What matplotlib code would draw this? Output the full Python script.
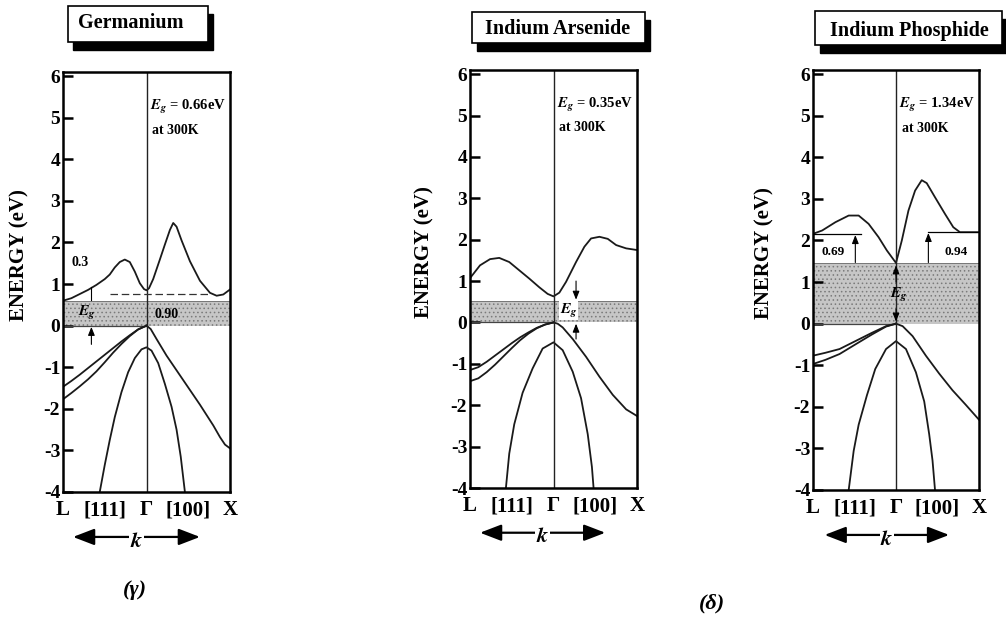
import matplotlib
matplotlib.use("Agg")
import matplotlib.pyplot as plt
from matplotlib.patches import Rectangle

plt.rcParams['font.family'] = ['Liberation Serif', 'DejaVu Serif']
plt.rcParams['font.weight'] = 'bold'
plt.rcParams['mathtext.fontset'] = 'stix'
plt.rcParams['hatch.linewidth'] = 0.6
plt.rcParams['hatch.color'] = '#7a7a7a'

# k axis: L = -1, Gamma = 0, X = 1
k_ticks = [-1, -0.5, 0, 0.5, 1]
k_labels = ['L', '[111]', 'Γ', '[100]', 'X']
e_ticks = [-4, -3, -2, -1, 0, 1, 2, 3, 4, 5, 6]
e_labels = ['-4', '-3', '-2', '-1', '0', '1', '2', '3', '4', '5', '6']

# ---- Germanium ----
ge_cb_k = [-1.0, -0.9, -0.8, -0.7, -0.6, -0.5, -0.44, -0.38, -0.32, -0.26, -0.2, -0.14, -0.08, -0.03, 0.0,
           0.03, 0.08, 0.16, 0.22, 0.28, 0.32, 0.36, 0.42, 0.52, 0.64, 0.76, 0.84, 0.92, 1.0]
ge_cb_e = [0.6, 0.66, 0.76, 0.86, 0.98, 1.12, 1.23, 1.4, 1.53, 1.59, 1.53, 1.3, 1.02, 0.88, 0.85,
           0.9, 1.12, 1.59, 1.95, 2.3, 2.47, 2.38, 2.05, 1.55, 1.08, 0.79, 0.72, 0.75, 0.87]
ge_hh_k = [-1.0, -0.9, -0.8, -0.7, -0.6, -0.5, -0.4, -0.3, -0.2, -0.1, 0.0]
ge_hh_e = [-1.47, -1.33, -1.18, -1.02, -0.86, -0.7, -0.54, -0.38, -0.23, -0.09, 0.0]
ge_lh_k = [-1.0, -0.9, -0.8, -0.7, -0.6, -0.5, -0.4, -0.3, -0.2, -0.1, 0.0]
ge_lh_e = [-1.77, -1.62, -1.46, -1.29, -1.1, -0.88, -0.65, -0.44, -0.25, -0.09, 0.0]
ge_vx_k = [0.0, 0.05, 0.12, 0.24, 0.44, 0.64, 0.8, 0.88, 0.94, 1.0]
ge_vx_e = [0.0, -0.08, -0.32, -0.72, -1.31, -1.9, -2.4, -2.68, -2.86, -2.95]
ge_so_k = [-0.56, -0.5, -0.44, -0.38, -0.3, -0.22, -0.14, -0.06, 0.0, 0.06, 0.14, 0.22, 0.3, 0.36, 0.41, 0.46]
ge_so_e = [-4.0, -3.35, -2.75, -2.2, -1.6, -1.12, -0.78, -0.57, -0.52, -0.6, -0.9, -1.4, -1.95, -2.5, -3.15, -4.0]
ge_gap_top = 0.6

# ---- Indium Arsenide ----
inas_cb_k = [-1.0, -0.88, -0.76, -0.65, -0.53, -0.41, -0.29, -0.17, -0.07, 0.0, 0.07, 0.15, 0.27, 0.37,
             0.45, 0.55, 0.65, 0.75, 0.87, 1.0]
inas_cb_e = [1.07, 1.38, 1.53, 1.56, 1.46, 1.26, 1.06, 0.85, 0.69, 0.63, 0.72, 0.98, 1.46, 1.83,
             2.03, 2.07, 2.02, 1.87, 1.79, 1.75]
inas_hh_k = [-1.0, -0.9, -0.8, -0.7, -0.6, -0.5, -0.4, -0.3, -0.2, -0.1, 0.0]
inas_hh_e = [-1.15, -1.08, -0.95, -0.8, -0.65, -0.5, -0.36, -0.24, -0.13, -0.05, 0.0]
inas_lh_k = [-1.0, -0.9, -0.8, -0.7, -0.6, -0.5, -0.4, -0.3, -0.2, -0.1, 0.0]
inas_lh_e = [-1.42, -1.35, -1.2, -1.02, -0.82, -0.62, -0.43, -0.27, -0.14, -0.05, 0.0]
inas_vx_k = [0.0, 0.05, 0.11, 0.23, 0.39, 0.55, 0.71, 0.87, 1.0]
inas_vx_e = [0.0, -0.03, -0.12, -0.4, -0.83, -1.31, -1.75, -2.1, -2.26]
inas_so_k = [-0.57, -0.53, -0.47, -0.37, -0.25, -0.13, 0.0, 0.11, 0.23, 0.33, 0.41, 0.46, 0.48]
inas_so_e = [-4.0, -3.17, -2.46, -1.7, -1.11, -0.63, -0.48, -0.67, -1.19, -1.83, -2.7, -3.49, -4.0]
inas_gap_top = 0.52

# ---- Indium Phosphide ----
inp_cb_k = [-1.0, -0.89, -0.73, -0.57, -0.45, -0.33, -0.21, -0.11, 0.0, 0.07, 0.15, 0.23, 0.31, 0.37,
            0.47, 0.59, 0.69, 0.77, 1.0]
inp_cb_e = [2.16, 2.24, 2.44, 2.6, 2.6, 2.4, 2.08, 1.76, 1.46, 2.0, 2.72, 3.2, 3.45, 3.38,
            3.04, 2.64, 2.32, 2.2, 2.2]
inp_hh_k = [-1.0, -0.85, -0.68, -0.49, -0.29, -0.12, 0.0]
inp_hh_e = [-0.77, -0.7, -0.61, -0.42, -0.22, -0.06, 0.0]
inp_lh_k = [-1.0, -0.85, -0.68, -0.49, -0.29, -0.12, 0.0]
inp_lh_e = [-0.97, -0.87, -0.73, -0.5, -0.26, -0.07, 0.0]
inp_vx_k = [0.0, 0.08, 0.2, 0.36, 0.52, 0.68, 0.84, 1.0]
inp_vx_e = [0.0, -0.06, -0.3, -0.77, -1.2, -1.6, -1.95, -2.31]
inp_so_k = [-0.57, -0.51, -0.45, -0.35, -0.25, -0.12, 0.0, 0.12, 0.24, 0.34, 0.4, 0.44, 0.47]
inp_so_e = [-4.0, -3.06, -2.43, -1.72, -1.09, -0.61, -0.42, -0.61, -1.17, -1.87, -2.66, -3.29, -4.0]
inp_gap_top = 1.45

W, H = 1006, 625
fig = plt.figure(figsize=(W / 100, H / 100), dpi=100)


def px_rect(x0, y0, x1, y1):
    # pixel box (top-left origin) -> figure fraction rect
    return [x0 / W, 1 - y1 / H, (x1 - x0) / W, (y1 - y0) / H]


def title_box(x0, y0, x1, y1, text, cx, cy):
    fig.add_artist(Rectangle((x0 / W + 5 / W, 1 - (y1 + 8) / H), (x1 - x0) / W, (y1 - y0) / H,
                             transform=fig.transFigure, facecolor='black', edgecolor='black'))
    fig.add_artist(Rectangle((x0 / W, 1 - y1 / H), (x1 - x0) / W, (y1 - y0) / H,
                             transform=fig.transFigure, facecolor='white', edgecolor='black', lw=1.2))
    fig.text(cx / W, 1 - cy / H, text, ha='center', va='center', fontsize=14.5, fontweight='bold')


def band_panel(rect, bands, gap_top, eg_text, ylab_x, arrow_x0, arrow_x1):
    ax = fig.add_axes(rect)
    ax.fill_between([-1, 1], 0, gap_top, facecolor='#c6c6c6', edgecolor='#7a7a7a', hatch='....', lw=0)
    ax.plot([-1, 1], [gap_top, gap_top], color='#777777', lw=0.7)
    ax.plot([-1, 0], [0, 0], color='#444444', lw=0.9)
    for kk, ee in bands:
        ax.plot(kk, ee, color='#1a1a1a', lw=1.3)
    ax.axvline(0, color='#222222', lw=1.0)
    ax.set_xlim(-1, 1)
    ax.set_ylim(-4.0, 6.1)
    ax.set_yticks(e_ticks)
    ax.set_yticklabels(e_labels, fontsize=14, fontweight='bold')
    ax.set_xticks(k_ticks)
    ax.set_xticklabels(k_labels, fontsize=15, fontweight='bold')
    ax.tick_params(axis='y', direction='in', length=7, width=1.8, pad=2)
    ax.tick_params(axis='x', length=0, pad=6)
    for s in ax.spines.values():
        s.set_linewidth(1.8)
    ax.set_ylabel('ENERGY (eV)', fontsize=15, fontweight='bold')
    ax.yaxis.set_label_coords(ylab_x, 0.565)
    ax.text(0.04, 5.25, eg_text, fontsize=10.5, fontweight='bold', va='center')
    ax.text(0.07, 4.7, 'at 300K', fontsize=10, fontweight='bold', va='center')
    ax.annotate('', xy=(arrow_x0, -0.107), xytext=(arrow_x1, -0.107), xycoords='axes fraction',
                textcoords='axes fraction', annotation_clip=False,
                arrowprops=dict(arrowstyle='<|-|>,head_length=1.3,head_width=0.5', lw=1.6, color='k',
                                shrinkA=0, shrinkB=0))
    ax.text((arrow_x0 + arrow_x1) / 2, -0.118, '$k$', transform=ax.transAxes, fontsize=16,
            ha='center', va='center', bbox=dict(facecolor='white', edgecolor='none', pad=0.5))
    return ax


def small_arrow(ax, k, e0, e1):
    ax.annotate('', xy=(k, e1), xytext=(k, e0),
                arrowprops=dict(arrowstyle='-|>,head_length=0.5,head_width=0.2', lw=0.8, color='k',
                                shrinkA=0, shrinkB=0))


# Germanium
title_box(68, 6, 208, 42, 'Germanium', 131, 23)
ax1 = band_panel(px_rect(63, 72, 230, 492),
                 [(ge_cb_k, ge_cb_e), (ge_hh_k, ge_hh_e), (ge_lh_k, ge_lh_e),
                  (ge_vx_k, ge_vx_e), (ge_so_k, ge_so_e)],
                 ge_gap_top, r'$E_g$ = 0.66eV', -0.2, 0.06, 0.82)
ax1.plot([-0.44, 0.76], [0.76, 0.76], color='#333333', lw=0.9, ls=(0, (6, 3)))
ax1.plot([-0.66, -0.66], [0.93, 0.62], color='k', lw=0.8)
small_arrow(ax1, -0.66, -0.45, -0.03)
ax1.text(-0.8, 1.52, '0.3', fontsize=10, fontweight='bold', va='center', ha='center')
ax1.text(-0.72, 0.3, r'$E_g$', fontsize=11, va='center', ha='center')
ax1.text(0.24, 0.28, '0.90', fontsize=10, fontweight='bold', va='center', ha='center')
fig.text(135 / W, 1 - 590 / H, '(γ)', fontsize=16, fontweight='bold', style='italic', ha='center', va='center')

# Indium Arsenide
title_box(472, 12, 645, 43, 'Indium Arsenide', 558, 29)
ax2 = band_panel(px_rect(470, 70, 637, 488),
                 [(inas_cb_k, inas_cb_e), (inas_hh_k, inas_hh_e), (inas_lh_k, inas_lh_e),
                  (inas_vx_k, inas_vx_e), (inas_so_k, inas_so_e)],
                 inas_gap_top, r'$E_g$ = 0.35eV', -0.21, 0.06, 0.81)
small_arrow(ax2, 0.27, 1.0, 0.55)
small_arrow(ax2, 0.27, -0.4, -0.03)
ax2.text(0.18, 0.28, r'$E_g$', fontsize=11, va='center', ha='center',
         bbox=dict(facecolor='white', edgecolor='none', pad=0.3))
fig.text(712 / W, 1 - 603 / H, '(δ)', fontsize=16, fontweight='bold', style='italic', ha='center', va='center')

# Indium Phosphide
title_box(815, 11, 1002, 45, 'Indium Phosphide', 909, 31)
ax3 = band_panel(px_rect(813, 70, 979, 490),
                 [(inp_cb_k, inp_cb_e), (inp_hh_k, inp_hh_e), (inp_lh_k, inp_lh_e),
                  (inp_vx_k, inp_vx_e), (inp_so_k, inp_so_e)],
                 inp_gap_top, r'$E_g$ = 1.34eV', -0.23, 0.07, 0.82)
ax3.plot([-1, -0.42], [2.15, 2.15], color='k', lw=0.9)
ax3.plot([0.39, 1], [2.2, 2.2], color='k', lw=0.9)
small_arrow(ax3, -0.49, 1.47, 2.13)
small_arrow(ax3, 0.39, 1.47, 2.18)
small_arrow(ax3, 0.0, 1.0, 1.4)
small_arrow(ax3, 0.0, 0.35, 0.05)
ax3.text(-0.76, 1.72, '0.69', fontsize=9.5, fontweight='bold', va='center', ha='center')
ax3.text(0.72, 1.72, '0.94', fontsize=9.5, fontweight='bold', va='center', ha='center')
ax3.text(0.04, 0.68, r'$E_g$', fontsize=11, va='center', ha='center')

fig.savefig('out.png', dpi=100, facecolor='white')
